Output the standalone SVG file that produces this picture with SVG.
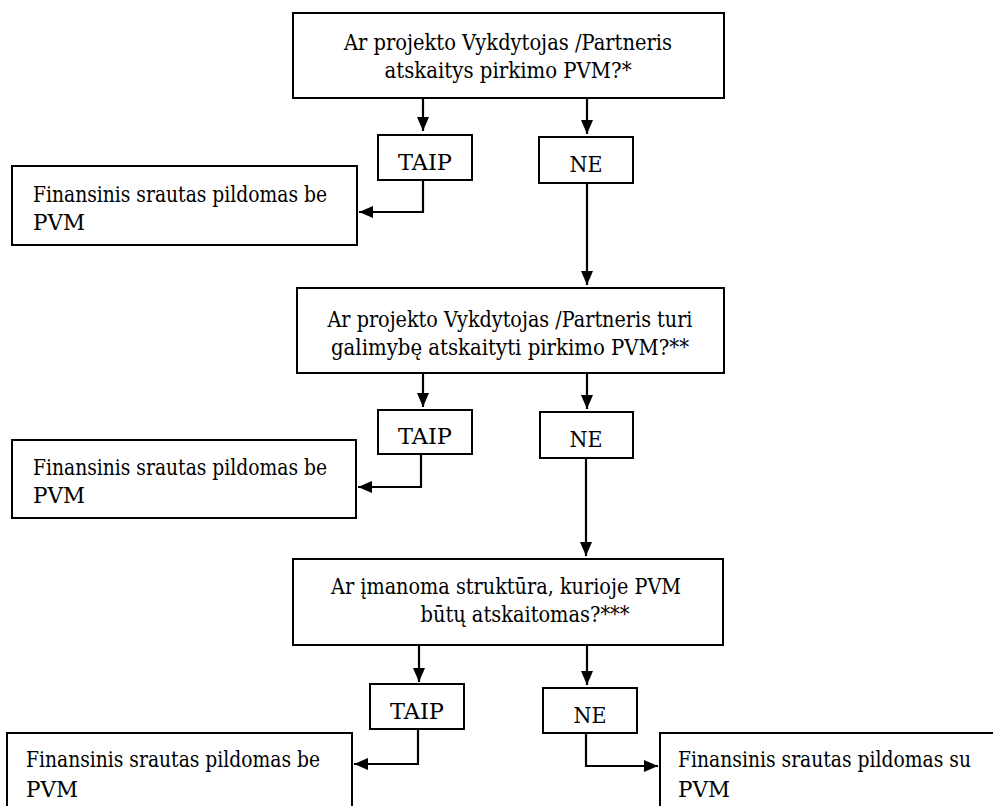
<svg xmlns="http://www.w3.org/2000/svg" width="993" height="806" viewBox="0 0 993 806">
<defs>
<style>
.box{fill:#fff;stroke:#000;stroke-width:2}
text{font-family:'DejaVu Serif','Liberation Serif',serif;font-size:22px;fill:#000}
.c{text-anchor:middle}
.ln{fill:none;stroke:#000;stroke-width:2.2}
</style>
<marker id="ah" viewBox="0 0 14 12" refX="14" refY="6" markerWidth="14" markerHeight="12" markerUnits="userSpaceOnUse" orient="auto">
<path d="M0,0 L14,6 L0,12 z" fill="#000"/>
</marker>
</defs>
<rect width="993" height="806" fill="#fff"/>
<g id="connectors">
<path class="ln" d="M423,98 V131" marker-end="url(#ah)"/>
<path class="ln" d="M587,98 V134" marker-end="url(#ah)"/>
<path class="ln" d="M423,180 V212 H359" marker-end="url(#ah)"/>
<path class="ln" d="M587,183 V285" marker-end="url(#ah)"/>
<path class="ln" d="M423,373 V407" marker-end="url(#ah)"/>
<path class="ln" d="M587,373 V409" marker-end="url(#ah)"/>
<path class="ln" d="M421,454 V487 H358" marker-end="url(#ah)"/>
<path class="ln" d="M586,458 V556" marker-end="url(#ah)"/>
<path class="ln" d="M419,645 V682" marker-end="url(#ah)"/>
<path class="ln" d="M587,645 V685" marker-end="url(#ah)"/>
<path class="ln" d="M418,729 V764 H354" marker-end="url(#ah)"/>
<path class="ln" d="M586,733 V766 H658" marker-end="url(#ah)"/>
</g>
<g id="q1">
<rect class="box" x="293" y="13" width="431" height="85"/>
<text class="c" x="508" y="50" textLength="328" lengthAdjust="spacingAndGlyphs">Ar projekto Vykdytojas /Partneris</text>
<text class="c" x="508" y="78" textLength="247" lengthAdjust="spacingAndGlyphs">atskaitys pirkimo PVM?*</text>
</g>
<g id="taip1">
<rect class="box" x="378" y="135" width="94" height="45"/>
<text class="c" x="425" y="170" textLength="54" lengthAdjust="spacingAndGlyphs">TAIP</text>
</g>
<g id="ne1">
<rect class="box" x="539" y="137" width="94" height="46"/>
<text class="c" x="586" y="172" textLength="33" lengthAdjust="spacingAndGlyphs">NE</text>
</g>
<g id="res1">
<rect class="box" x="12" y="166" width="345" height="79"/>
<text x="33" y="202" textLength="294" lengthAdjust="spacingAndGlyphs">Finansinis srautas pildomas be</text>
<text x="33" y="230" textLength="52" lengthAdjust="spacingAndGlyphs">PVM</text>
</g>
<g id="q2">
<rect class="box" x="297" y="288" width="427" height="85"/>
<text class="c" x="510" y="327" textLength="365" lengthAdjust="spacingAndGlyphs">Ar projekto Vykdytojas /Partneris turi</text>
<text class="c" x="510" y="355" textLength="358" lengthAdjust="spacingAndGlyphs">galimybę atskaityti pirkimo PVM?**</text>
</g>
<g id="taip2">
<rect class="box" x="378" y="410" width="94" height="44"/>
<text class="c" x="425" y="444" textLength="54" lengthAdjust="spacingAndGlyphs">TAIP</text>
</g>
<g id="ne2">
<rect class="box" x="540" y="412" width="93" height="46"/>
<text class="c" x="586" y="447" textLength="33" lengthAdjust="spacingAndGlyphs">NE</text>
</g>
<g id="res2">
<rect class="box" x="12" y="440" width="344" height="78"/>
<text x="33" y="475" textLength="294" lengthAdjust="spacingAndGlyphs">Finansinis srautas pildomas be</text>
<text x="33" y="503" textLength="52" lengthAdjust="spacingAndGlyphs">PVM</text>
</g>
<g id="q3">
<rect class="box" x="293" y="559" width="430" height="86"/>
<text class="c" x="506" y="594" textLength="350" lengthAdjust="spacingAndGlyphs">Ar įmanoma struktūra, kurioje PVM</text>
<text class="c" x="525" y="622" textLength="209" lengthAdjust="spacingAndGlyphs">būtų atskaitomas?***</text>
</g>
<g id="taip3">
<rect class="box" x="370" y="684" width="94" height="45"/>
<text class="c" x="417" y="719" textLength="54" lengthAdjust="spacingAndGlyphs">TAIP</text>
</g>
<g id="ne3">
<rect class="box" x="543" y="688" width="94" height="45"/>
<text class="c" x="590" y="723" textLength="33" lengthAdjust="spacingAndGlyphs">NE</text>
</g>
<g id="res3">
<rect class="box" x="7" y="733" width="345" height="90"/>
<text x="26" y="767" textLength="294" lengthAdjust="spacingAndGlyphs">Finansinis srautas pildomas be</text>
<text x="26" y="797" textLength="52" lengthAdjust="spacingAndGlyphs">PVM</text>
</g>
<g id="res4">
<rect class="box" x="660" y="733" width="345" height="90"/>
<text x="678" y="767" textLength="293" lengthAdjust="spacingAndGlyphs">Finansinis srautas pildomas su</text>
<text x="678" y="797" textLength="52" lengthAdjust="spacingAndGlyphs">PVM</text>
</g>
</svg>
